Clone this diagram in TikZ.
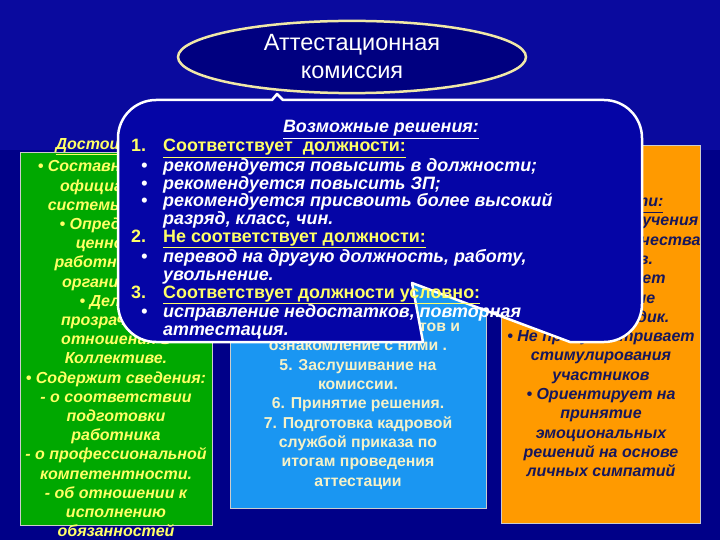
\documentclass[tikz,border=0pt]{standalone}
\usepackage{fontspec}
\setmainfont{Liberation Sans}
\usetikzlibrary{shapes.geometric}
\definecolor{bgtop}{HTML}{0A0A9E}
\definecolor{bgblue}{HTML}{000088}
\definecolor{callblue}{HTML}{0505A6}
\definecolor{ovalblue}{HTML}{000080}
\definecolor{cream}{HTML}{F0E8A8}
\definecolor{boxgreen}{HTML}{00A800}
\definecolor{boxblue}{HTML}{1A96F2}
\definecolor{boxorange}{HTML}{FF9A00}
\definecolor{txtyellow}{HTML}{FFFF66}
\definecolor{txtcream}{HTML}{F5F2C8}
\definecolor{txtnavy}{HTML}{16165C}
\newcommand\numitem[2]{\makebox[32pt][l]{#1}\underline{#2}}
\newcommand\bulitem[1]{\makebox[32pt][l]{\hspace{10pt}•}#1}
\newcommand\contitem[1]{\makebox[32pt][l]{}#1}

\begin{document}
\begin{tikzpicture}[x=1pt,y=-1pt,
  panel/.style={draw=gray!40, line width=0.8pt},
  paneltext/.style={align=center, anchor=north, inner sep=0pt,
    font=\fontsize{15.8}{19.3}\selectfont\bfseries},
  oval/.style={ellipse, draw=cream, line width=2.5pt, fill=ovalblue,
    minimum width=348pt, minimum height=72pt, text=white, align=center,
    font=\fontsize{23.5}{28}\selectfont}]
\useasboundingbox (0,0) rectangle (720,540);
\fill[bgblue] (0,0) rectangle (720,540);
\fill[bgtop] (0,0) rectangle (720,150);

\draw[panel, fill=boxgreen] (20,152) rectangle (212,525);
\draw[panel, fill=boxblue] (230,150) rectangle (486,508);
\draw[panel, fill=boxorange] (501,145) rectangle (700,523);

\node[anchor=base west, text=txtyellow, font=\fontsize{16}{18}\selectfont\bfseries\itshape] (pros) at (52,150) {\underline{Достоинства:}};
\node[paneltext, text=txtyellow, font=\fontsize{16}{19.2}\selectfont\bfseries\itshape] (prostext) at (116,160.5)
 {• Составная часть\\официальной\\системы оценки\\• Определяет\\ценность\\работника для\\организации.\\• Делает\\прозрачными\\отношения в\\Коллективе.\\• Содержит сведения:\\- о соответствии\\подготовки\\работника\\- о профессиональной\\компетентности.\\- об отношении к\\исполнению\\обязанностей};
\node[paneltext, text=txtcream] (steps) at (358,320.6)
 {4. Изучение документов и\\ознакомление с ними .\\5. Заслушивание на\\комиссии.\\6. Принятие решения.\\7. Подготовка кадровой\\службой приказа по\\итогам проведения\\аттестации};
\node[anchor=base east, text=txtnavy, font=\fontsize{16}{18}\selectfont\bfseries\itshape] (cons) at (667,207) {\underline{Трудности:}};
\node[paneltext, text=txtnavy, font=\fontsize{16}{19.3}\selectfont\bfseries\itshape] (constext) at (601,214.5)
 {• Сложность получения\\объективного качества\\работников.\\• Предполагает\\специальные\\знания методик.\\• Не предусматривает\\стимулирования\\участников\\• Ориентирует на\\принятие\\эмоциональных\\решений на основе\\личных симпатий};

\draw[white, line width=2.5pt, fill=callblue, line join=round]
 (283,100) -- (604,100) arc[start angle=-90, end angle=0, radius=38]
 -- (642,304) arc[start angle=0, end angle=90, radius=38]
 -- (570,342) -- (412,283) -- (423,342)
 -- (156,342) arc[start angle=90, end angle=180, radius=38]
 -- (118,138) arc[start angle=180, end angle=270, radius=38]
 -- (272,100) -- (277,94) -- cycle;
\node[anchor=base, text=white, font=\fontsize{17.9}{20}\selectfont\bfseries\itshape] (decisions) at (381,133) {\underline{Возможные решения:}};
\node[anchor=north west, inner sep=0pt, align=left, text=white, font=\fontsize{17.9}{17.8}\selectfont\bfseries] (decisionlist) at (131,139)
 {\textcolor{txtyellow}{\numitem{1.}{Соответствует~ должности:}}\\
  \itshape\bulitem{рекомендуется повысить в должности;}\\
  \itshape\bulitem{рекомендуется повысить ЗП;}\\
  \itshape\bulitem{рекомендуется присвоить более высокий}\\
  \itshape\contitem{разряд, класс, чин.}\\
  \textcolor{txtyellow}{\numitem{2.}{Не соответствует должности:}}\\
  \itshape\bulitem{перевод на другую должность, работу,}\\
  \itshape\contitem{увольнение.}\\
  \textcolor{txtyellow}{\numitem{3.}{Соответствует должности условно:}}\\
  \itshape\bulitem{исправление недостатков, повторная}\\
  \itshape\contitem{аттестация.}};

\node[oval] (commission) at (352,57) {Аттестационная\\комиссия};
\end{tikzpicture}
\end{document}
